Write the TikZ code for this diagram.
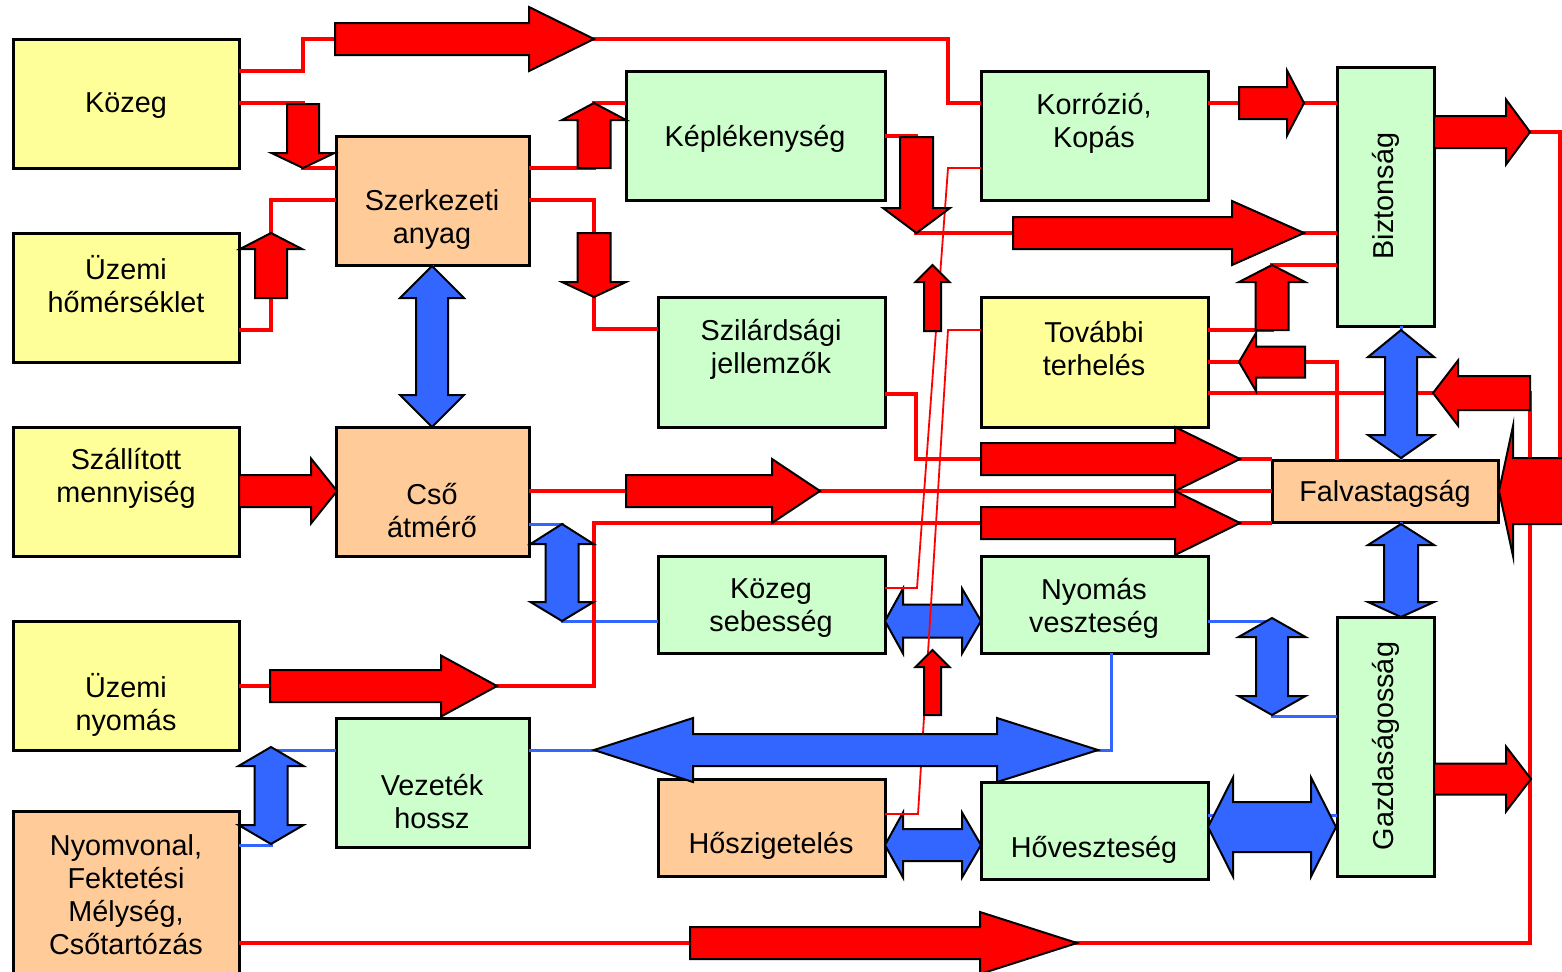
\documentclass[tikz,border=0pt]{standalone}
\usepackage{fontspec}
\setmainfont{Liberation Sans}

\definecolor{boxyellow}{HTML}{FFFF99}
\definecolor{boxgreen}{HTML}{CCFFCC}
\definecolor{boxorange}{HTML}{FFCC99}
\definecolor{flowred}{HTML}{FF0000}
\definecolor{flowblue}{HTML}{3366FF}

% fat arrows: fill, back, head base, tip, axis, shaft half width, head half width
\newcommand{\fatarrowh}[7]{\filldraw[fat, fill=#1] (#2,#5-#6) -- (#3,#5-#6) -- (#3,#5-#7) -- (#4,#5) -- (#3,#5+#7) -- (#3,#5+#6) -- (#2,#5+#6) -- cycle;}
\newcommand{\fatarrowv}[7]{\filldraw[fat, fill=#1] (#5-#6,#2) -- (#5-#6,#3) -- (#5-#7,#3) -- (#5,#4) -- (#5+#7,#3) -- (#5+#6,#3) -- (#5+#6,#2) -- cycle;}
% double arrows: fill, tip 1, base 1, base 2, tip 2, axis, shaft half width, head half width
\newcommand{\dblarrowh}[8]{\filldraw[fat, fill=#1] (#2,#6) -- (#3,#6-#8) -- (#3,#6-#7) -- (#4,#6-#7) -- (#4,#6-#8) -- (#5,#6) -- (#4,#6+#8) -- (#4,#6+#7) -- (#3,#6+#7) -- (#3,#6+#8) -- cycle;}
\newcommand{\dblarrowv}[8]{\filldraw[fat, fill=#1] (#6,#2) -- (#6-#8,#3) -- (#6-#7,#3) -- (#6-#7,#4) -- (#6-#8,#4) -- (#6,#5) -- (#6+#8,#4) -- (#6+#7,#4) -- (#6+#7,#3) -- (#6+#8,#3) -- cycle;}

\begin{document}
\begin{tikzpicture}[x=0.5pt, y=-0.5pt,
    box/.style={draw, line width=1.5pt, outer sep=0pt, inner sep=0pt},
    txt/.style={font=\fontsize{14.4}{16.5}\selectfont, align=center, inner sep=0pt},
    fat/.style={draw=black, line width=1pt, line join=miter},
    rline/.style={draw=flowred, line width=1.6pt},
    thinr/.style={draw=flowred, line width=0.9pt},
    bline/.style={draw=flowblue, line width=1.5pt}]
    \useasboundingbox (0,0) rectangle (1562,971);
    \clip (0,0) rectangle (1562,971);

    % input boxes
    \node[box, fill=boxyellow, minimum width=113pt, minimum height=64.5pt] (kozeg) at (126,103.5) {};
    \node[box, fill=boxyellow, minimum width=113pt, minimum height=64.5pt] (uzho) at (126,297.5) {};
    \node[box, fill=boxyellow, minimum width=113pt, minimum height=64.5pt] (szall) at (126,491.5) {};
    \node[box, fill=boxyellow, minimum width=113pt, minimum height=64.5pt] (uzny) at (126,685.5) {};
    \node[box, fill=boxorange, minimum width=113pt, minimum height=94.5pt] (nyomv) at (126,905.5) {};

    \node[box, fill=boxorange, minimum width=96.5pt, minimum height=64.5pt] (szerk) at (432.5,200.5) {};
    \node[box, fill=boxorange, minimum width=96.5pt, minimum height=64.5pt] (cso) at (432.5,491.5) {};
    \node[box, fill=boxgreen, minimum width=96.5pt, minimum height=64.5pt] (vezh) at (432.5,782.5) {};

    \node[box, fill=boxgreen, minimum width=129.5pt, minimum height=64.5pt] (kepl) at (755.5,135.5) {};
    \node[box, fill=boxgreen, minimum width=113.5pt, minimum height=65pt] (szil) at (771.5,362) {};
    \node[box, fill=boxgreen, minimum width=113.5pt, minimum height=48.5pt] (kozs) at (771.5,604.5) {};
    \node[box, fill=boxorange, minimum width=113.5pt, minimum height=48.5pt] (hoszig) at (771.5,827.5) {};

    \node[box, fill=boxgreen, minimum width=113.5pt, minimum height=64.5pt] (korr) at (1094.5,135.5) {};
    \node[box, fill=boxyellow, minimum width=113.5pt, minimum height=65pt] (tovt) at (1094.5,362) {};
    \node[box, fill=boxgreen, minimum width=113.5pt, minimum height=48.5pt] (nyvesz) at (1094.5,604.5) {};
    \node[box, fill=boxgreen, minimum width=113.5pt, minimum height=48.5pt] (hovesz) at (1094.5,830.5) {};

    \node[box, fill=boxgreen, minimum width=48.5pt, minimum height=129.5pt] (bizt) at (1385.5,196.5) {};
    \node[box, fill=boxorange, minimum width=113pt, minimum height=31pt] (falv) at (1385,491) {};
    \node[box, fill=boxgreen, minimum width=48.5pt, minimum height=129.5pt] (gazd) at (1385.5,746.5) {};

    % texts
    \node[txt] (kozeg-t) at (126,106) {Közeg};
    \node[txt] (uzho-t) at (126,284) {Üzemi\\hőmérséklet};
    \node[txt] (szall-t) at (126,478) {Szállított\\mennyiség};
    \node[txt] (uzny-t) at (126,705) {Üzemi\\nyomás};
    \node[txt] (nyomv-t) at (126,895) {Nyomvonal,\\Fektetési\\Mélység,\\Csőtartózás};
    \node[txt] (szerk-t) at (432,220) {Szerkezeti\\anyag};
    \node[txt] (cso-t) at (432,511) {Cső\\átmérő};
    \node[txt] (vezh-t) at (432,802) {Vezeték\\hossz};
    \node[txt] (kepl-t) at (755,139) {Képlékenység};
    \node[txt] (szil-t) at (771,349) {Szilárdsági\\jellemzők};
    \node[txt] (kozs-t) at (771,608) {Közeg\\sebesség};
    \node[txt] (hoszig-t) at (771,846) {Hőszigetelés};
    \node[txt] (korr-t) at (1094,123) {Korrózió,\\Kopás};
    \node[txt] (tovt-t) at (1094,349) {További\\terhelés};
    \node[txt] (nyvesz-t) at (1094,608) {Nyomás\\veszteség};
    \node[txt] (hovesz-t) at (1094,850) {Hőveszteség};
    \node[txt, rotate=90] (bizt-t) at (1386,196) {Biztonság};
    \node[txt] (falv-t) at (1385,494) {Falvastagság};
    \node[txt, rotate=90] (gazd-t) at (1386,746) {Gazdaságosság};

    % blue links
    \draw[bline] (szerk.south) -- (cso.north);
    \draw[bline] (cso.east |- 0,524) -| (562,621) -- (kozs.west |- 0,621);
    \draw[bline] (kozs.east |- 0,621) -- (nyvesz.west |- 0,621);
    \draw[bline] (hoszig.east |- 0,845) -- (hovesz.west |- 0,845);
    \draw[bline] (nyvesz.east |- 0,621) -| (1272,716) -- (gazd.west |- 0,716);
    \draw[bline] (hovesz.east |- 0,815) -- (gazd.west |- 0,815);
    \draw[bline] (bizt.south -| 1401,0) -- (falv.north -| 1401,0);
    \draw[bline] (falv.south -| 1401,0) -- (gazd.north -| 1401,0);
    \draw[bline] (vezh.east |- 0,750) -| (nyvesz.south -| 1111,0);
    \draw[bline] (nyomv.east |- 0,845) -| (271,750) -- (vezh.west |- 0,750);

    % red links
    \draw[rline] (kozeg.east |- 0,71) -| (303,39) -| (948,103) -- (korr.west |- 0,103);
    \draw[rline] (kozeg.east |- 0,103) -| (303,168) -- (szerk.west |- 0,168);
    \draw[rline] (uzho.east |- 0,330) -| (271,200) -- (szerk.west |- 0,200);
    \draw[rline] (szall.east) -- (cso.west);
    \draw[rline] (uzny.east |- 0,686) -| (594,523) -- (falv.west |- 0,523);
    \draw[rline] (nyomv.east |- 0,943) -| (1530,393) -- (tovt.east |- 0,393);
    \draw[rline] (szerk.east |- 0,168) -| (594,103) -- (kepl.west |- 0,103);
    \draw[rline] (szerk.east |- 0,200) -| (594,329) -- (szil.west |- 0,329);
    \draw[rline] (cso.east |- 0,491) -- (falv.west);
    \draw[rline] (kepl.east |- 0,136) -| (916,233) -- (bizt.west |- 0,233);
    \draw[rline] (szil.east |- 0,394) -| (916,459) -- (falv.west |- 0,459);
    \draw[rline] (korr.east |- 0,103) -- (bizt.west |- 0,103);
    \draw[rline] (tovt.east |- 0,330) -| (1272,265) -- (bizt.west |- 0,265);
    \draw[rline] (falv.north -| 1337,0) |- (tovt.east |- 0,362);
    \draw[rline] (bizt.east |- 0,132) -| (1560,491) -- (falv.east);

    % blue arrows under the thin lines
    \dblarrowh{flowblue}{885}{903}{962}{981}{621}{16.5}{32.5}
    \dblarrowh{flowblue}{885}{903}{962}{981}{845}{16}{32.5}

    \draw[thinr] (kozs.east |- 0,588) -- (917,588) -- (948,168) -- (korr.west |- 0,168);
    \draw[thinr] (hoszig.east |- 0,814) -- (918,814) -- (948,330) -- (tovt.west |- 0,330);

    % blue arrows
    \dblarrowv{flowblue}{266}{298}{395}{427}{432}{16}{32}
    \dblarrowv{flowblue}{524}{544}{602}{621}{562}{16.5}{31.5}
    \dblarrowv{flowblue}{618}{637}{696}{715}{1272}{16}{33.5}
    \dblarrowh{flowblue}{1208}{1233}{1311}{1336}{827}{25}{49.5}
    \dblarrowv{flowblue}{330}{357}{435}{458}{1401}{16}{33}
    \dblarrowv{flowblue}{524}{545}{602}{617}{1401}{17}{33}
    \dblarrowh{flowblue}{594}{693}{997}{1098}{750}{16}{32}
    \dblarrowv{flowblue}{747}{766}{825}{844}{271}{16.5}{32.5}

    % red arrows
    \fatarrowh{flowred}{335}{529}{594}{39}{16}{32}
    \fatarrowv{flowred}{104}{153}{168}{303}{16}{31.5}
    \fatarrowv{flowred}{298}{249}{233}{271}{16}{31}
    \fatarrowv{flowred}{168}{120}{103}{594}{16.5}{32}
    \fatarrowv{flowred}{233}{282}{297}{594}{16.5}{32}
    \fatarrowv{flowred}{137}{208}{233}{916.5}{16.5}{33.5}
    \fatarrowh{flowred}{1013}{1232}{1304}{233}{16}{32}
    \fatarrowh{flowred}{1239}{1287}{1304}{103}{16}{32.5}
    \fatarrowh{flowred}{1434}{1506}{1530}{132}{16}{32.5}
    \fatarrowv{flowred}{330}{282}{265}{1272}{16.5}{33}
    \fatarrowh{flowred}{1305}{1256}{1239}{362}{15.5}{29}
    \fatarrowh{flowred}{1530}{1458}{1433}{393}{17}{32.5}
    \fatarrowh{flowred}{1580}{1513}{1499}{491}{33}{65}
    \fatarrowh{flowred}{981}{1175}{1240}{459}{16}{32}
    \fatarrowh{flowred}{981}{1175}{1240}{523}{16}{32}
    \fatarrowh{flowred}{626}{772}{820}{491}{16}{32}
    \fatarrowh{flowred}{239}{311}{337}{491}{16}{32.5}
    \fatarrowh{flowred}{270}{441}{497}{686}{16}{30.5}
    \fatarrowh{flowred}{690}{980}{1077}{943}{16}{31}
    \fatarrowv{flowred}{331}{282}{265}{932.5}{8.5}{17}
    \fatarrowv{flowred}{715}{667}{650}{932.5}{8.5}{17}
    \fatarrowh{flowred}{1434}{1506}{1531}{779}{15.5}{32.5}
\end{tikzpicture}
\end{document}
